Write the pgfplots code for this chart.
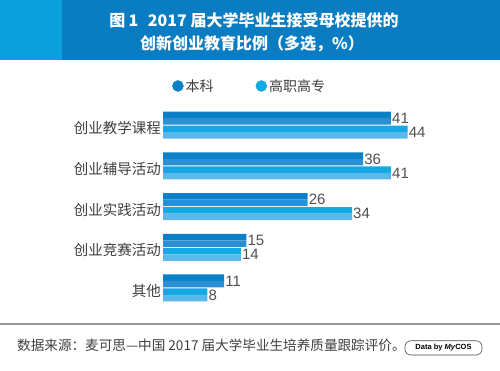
\documentclass[border=0pt]{standalone}
\usepackage{pgfplots}
\pgfplotsset{compat=1.18}
\usepackage{fontspec}
\setmainfont{Liberation Sans}
\newfontfamily\cjk{Noto Sans CJK SC}
\definecolor{banner}{HTML}{0A7CC1}
\definecolor{bannerL}{HTML}{0AA0DC}
\definecolor{cA}{HTML}{0B7FC7}
\definecolor{cAb}{HTML}{2B8FD4}
\definecolor{cB}{HTML}{13A9E3}
\definecolor{cBb}{HTML}{5AB8EA}
\definecolor{txt}{HTML}{404040}
\definecolor{num}{HTML}{505050}
\begin{document}
\begin{tikzpicture}[x=1pt,y=1pt]
\path[use as bounding box] (0,0) rectangle (500,371);
\fill[white] (0,0) rectangle (500,371);
% banner
\fill[banner] (0,311) rectangle (500,371);
\fill[bannerL] (0,311) rectangle (61.7,371);
\node[text=white, font=\cjk\bfseries\fontsize{16}{16}\selectfont] at (254,351) {图\hspace{0.2em}1\hspace{0.6em}2017 届大学毕业生接受母校提供的};
\node[text=white, font=\cjk\bfseries\fontsize{16}{16}\selectfont] at (252,327.5) {创新创业教育比例（多选，\%）};
% footer
\draw[black!40, line width=2pt] (0,46.5) -- (500,46.5);
\node[anchor=west, text=txt, font=\cjk\fontsize{13.6}{13.6}\selectfont, inner sep=0pt] at (17,25.3) {数据来源：麦可思—中国 2017 届大学毕业生培养质量跟踪评价。};
\node[draw=black!70, rounded corners=6pt, line width=0.6pt, minimum width=77pt, minimum height=14.3pt, inner sep=0pt, font=\bfseries\fontsize{7.5}{7.5}\selectfont] at (443.5,23.1) {Data by \textit{My}COS};
\begin{axis}[
  at={(163pt,62.7pt)}, anchor=south west,
  width=333.6pt, height=203.4pt, scale only axis,
  xmin=0, xmax=60, ymin=-0.5, ymax=4.5,
  axis line style={draw=none}, tick style={draw=none},
  xtick=\empty,
  ytick={0,1,2,3,4},
  yticklabels={其他,创业竞赛活动,创业实践活动,创业辅导活动,创业教学课程},
  yticklabel style={font=\cjk\fontsize{14.5}{14.5}\selectfont, text=txt, inner sep=0pt, xshift=-2pt, yshift=-3pt},
  clip=false,
  /pgf/number format/assume math mode=true,
  legend style={draw=none, fill=none, at={(0.027,1.093)}, anchor=west, legend columns=2,
    font=\cjk\fontsize{14}{14}\selectfont, text=txt, inner sep=0pt,
    /tikz/every even column/.append style={column sep=40pt},
    cells={anchor=west}},
  legend image code/.code={\fill[#1] (5.5pt,0) circle (5.5pt);},
]
\addlegendimage{cA}\addlegendentry{本科}
\addlegendimage{cB}\addlegendentry{高职高专}
\addplot[xbar, bar width=6.5pt, bar shift=10.25pt, fill=cA, draw=none, forget plot] coordinates {(41,4) (36,3) (26,2) (15,1) (11,0)};
\addplot[xbar, bar width=6.5pt, bar shift=3.75pt, fill=cAb, draw=none, forget plot] coordinates {(41,4) (36,3) (26,2) (15,1) (11,0)};
\addplot[xbar, bar width=6.5pt, bar shift=-3.75pt, fill=cB, draw=none, forget plot] coordinates {(44,4) (41,3) (34,2) (14,1) (8,0)};
\addplot[xbar, bar width=6.5pt, bar shift=-10.25pt, fill=cBb, draw=none, forget plot] coordinates {(44,4) (41,3) (34,2) (14,1) (8,0)};
\addplot[only marks, mark=none, forget plot, point meta=x,
  nodes near coords, nodes near coords style={anchor=west, inner sep=1pt, yshift=7pt, text=num, font=\fontsize{15}{15}\selectfont}]
  coordinates {(41,4) (36,3) (26,2) (15,1) (11,0)};
\addplot[only marks, mark=none, forget plot, point meta=x,
  nodes near coords, nodes near coords style={anchor=west, inner sep=1pt, yshift=-7pt, text=num, font=\fontsize{15}{15}\selectfont}]
  coordinates {(44,4) (41,3) (34,2) (14,1) (8,0)};
\end{axis}
\end{tikzpicture}
\end{document}
